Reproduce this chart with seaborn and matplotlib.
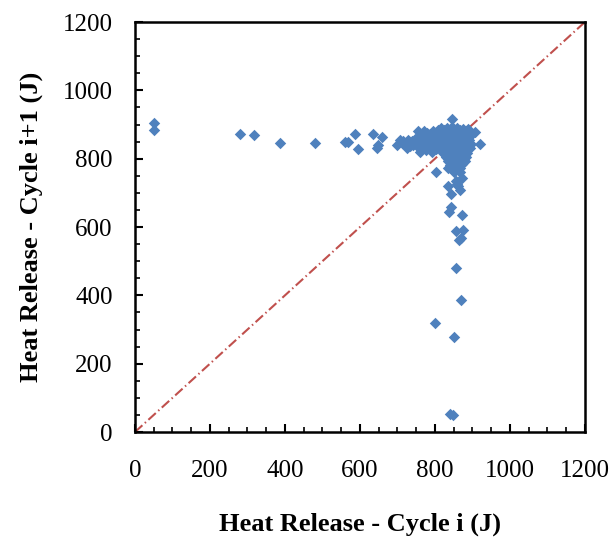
#plot.py - Heat release return map (cycle i vs cycle i+1)
import matplotlib
matplotlib.use('Agg')
import matplotlib.pyplot as plt
import seaborn as sns
import pandas as pd
from matplotlib.ticker import MultipleLocator

# scattered outliers (J)
hr_i_out = [51, 51, 280, 318, 386, 481, 560, 569, 588, 594, 636, 659, 647, 646, 698,
            755, 846, 907, 920, 804, 835, 871, 856, 860, 834, 843, 862, 867,
            842, 837, 871, 855, 875, 865, 869, 857, 869, 799, 851, 840, 849]
hr_next_out = [906, 885, 873, 869, 847, 847, 850, 849, 872, 829, 871, 863, 841, 832, 840,
               881, 917, 878, 844, 761, 773, 743, 735, 726, 719, 697, 719, 709,
               659, 645, 636, 588, 592, 562, 569, 480, 385, 318, 279, 52, 50]

# left spur of the main cluster
hr_i_spur = [707, 716, 725, 729, 738, 742, 712, 733]
hr_next_spur = [855, 851, 831, 855, 851, 841, 845, 838]

# left part of the main cluster
hr_i_left = [750, 755, 758, 762, 765, 768, 772, 775, 778, 780, 783, 786, 790, 792,
             795, 797, 800, 803, 805, 807, 748, 760, 770, 787, 799, 776]
hr_next_left = [845, 862, 830, 850, 870, 838, 858, 825, 845, 875, 835, 862, 850, 820,
                880, 840, 866, 828, 852, 885, 858, 820, 880, 873, 876, 866]

# dense core of the cluster
hr_i_core = [815, 831, 846, 859, 874, 887,
             808, 823, 835, 851, 863, 879, 891,
             811, 824, 839, 852, 867, 880, 894,
             807, 821, 837, 849, 865, 877, 892,
             810, 825, 838, 853, 866, 881, 896,
             816, 828, 841, 854, 869, 882, 893,
             822, 833, 845, 858, 871, 886,
             829, 840, 851, 862, 875, 884,
             834, 846, 857, 868, 879,
             839, 850, 861, 872,
             845, 857, 868,
             852, 866,
             # in-between fill
             823, 838, 853, 868, 884,
             816, 831, 845, 860, 874, 888,
             817, 830, 844, 859, 873, 887,
             822, 836, 851, 864, 878,
             834, 848, 862, 876,
             844, 856, 869,
             851, 863]
hr_next_core = [891, 889, 893, 890, 888, 887,
                877, 879, 878, 880, 876, 879, 877,
                866, 867, 865, 868, 866, 864, 867,
                855, 853, 856, 854, 855, 852, 854,
                842, 843, 841, 844, 842, 841, 843,
                830, 831, 829, 832, 830, 828, 831,
                818, 819, 817, 820, 818, 817,
                806, 807, 805, 808, 806, 805,
                794, 795, 793, 796, 794,
                782, 783, 781, 784,
                771, 769, 772,
                760, 761,
                884, 885, 883, 884, 882,
                861, 860, 862, 859, 861, 860,
                848, 849, 847, 848, 850, 848,
                824, 825, 823, 826, 824,
                800, 801, 799, 800,
                788, 789, 787,
                776, 777]

diag_x = [0, 1200]
diag_y = [0, 1200]

df = pd.DataFrame({
    'hr_i': hr_i_out + hr_i_spur + hr_i_left + hr_i_core,
    'hr_next': hr_next_out + hr_next_spur + hr_next_left + hr_next_core,
})

sns.set_theme(style='white')
plt.rcParams['font.family'] = ['Liberation Serif', 'DejaVu Serif']
plt.rcParams['text.color'] = 'black'
plt.rcParams['axes.labelcolor'] = 'black'
plt.rcParams['xtick.color'] = 'black'
plt.rcParams['ytick.color'] = 'black'

fig = plt.figure(figsize=(6.15, 5.39), dpi=100)
ax = fig.add_axes([0.2195, 0.1985, 0.7315, 0.7605])

sns.lineplot(x=diag_x, y=diag_y, ax=ax, color='#C0504D', linewidth=1.5,
             linestyle=(0, (4.8, 1.6, 0.7, 1.6)), zorder=1)
sns.scatterplot(data=df, x='hr_i', y='hr_next', ax=ax, marker='D', s=34,
                color='#4F81BD', linewidth=0, zorder=2)

ax.set_xlim(0, 1200)
ax.set_ylim(0, 1200)
ax.xaxis.set_major_locator(MultipleLocator(200))
ax.yaxis.set_major_locator(MultipleLocator(200))
ax.xaxis.set_minor_locator(MultipleLocator(50))
ax.yaxis.set_minor_locator(MultipleLocator(50))
ax.tick_params(which='major', direction='in', length=6, width=1.5, colors='black',
               labelsize=18, bottom=True, left=True, top=False, right=False)
ax.tick_params(axis='x', which='major', pad=20)
ax.tick_params(axis='y', which='major', pad=16)
ax.tick_params(which='minor', direction='in', length=3.5, width=1.2, color='black',
               bottom=True, left=True, top=False, right=False)

for sp in ax.spines.values():
    sp.set_color('black')
    sp.set_linewidth(1.8)

ax.set_xlabel('Heat Release - Cycle i (J)', fontsize=19, fontweight='bold', labelpad=22)
ax.set_ylabel('Heat Release - Cycle i+1 (J)', fontsize=19, fontweight='bold', labelpad=14)
ax.grid(False)

plt.savefig('out.png', dpi=100)
